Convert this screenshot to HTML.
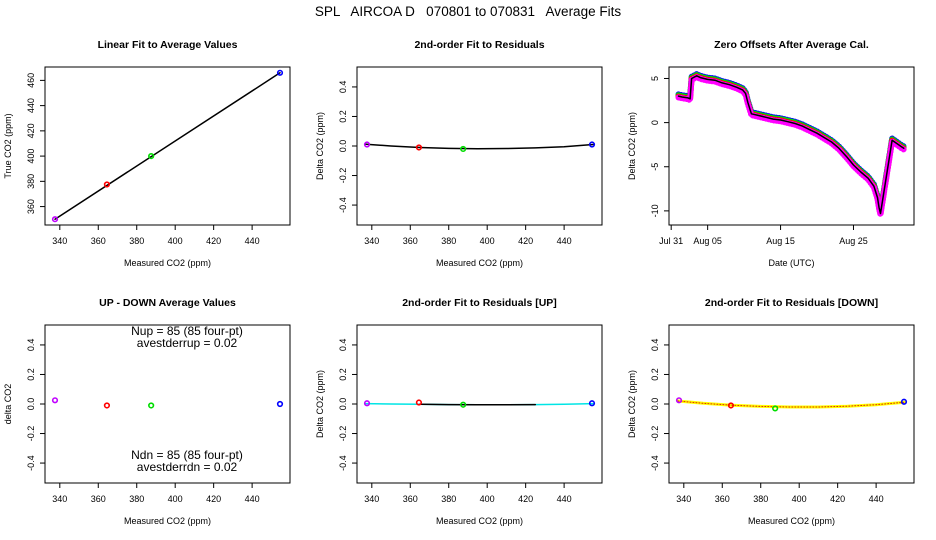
<!DOCTYPE html>
<html><head><meta charset="utf-8"><style>
body{margin:0;background:#fff}
svg{display:block;font-family:"Liberation Sans",sans-serif}
</style></head><body>
<svg id="c" width="936" height="540" viewBox="0 0 936 540">
<text x="468" y="16" text-anchor="middle" font-size="13.5" xml:space="preserve">SPL   AIRCOA D   070801 to 070831   Average Fits</text>
</svg>
<script>
// ---- data ----
const concMeasured=[337.5,364.5,387.5,454.5];
const concTrue=[350,377.5,400,466];
const ptColors=['#c000ff','red','#00dd00','blue'];
const residAll=[0.01,-0.01,-0.02,0.01];
const fitX=[337,350,365,380,395,410,425,440,455];
const fitAll=[0.012,0.0,-0.01,-0.016,-0.018,-0.017,-0.013,-0.005,0.01];
const diffUpDown=[0.025,-0.01,-0.01,0.0];
const residUp=[0.005,0.01,-0.005,0.005];
const fitUp=[0.003,0.0,-0.002,-0.004,-0.005,-0.005,-0.004,-0.002,0.003];
const residDown=[0.025,-0.01,-0.03,0.015];
const fitDown=[0.02,0.005,-0.008,-0.016,-0.02,-0.02,-0.015,-0.005,0.012];
const offDays=[1,1.5,2.3,2.6,2.8,3.5,4,5,6,7,8,9,9.8,10.2,10.5,11,12,13,14,15,16,17,18,19,20,21,22,23,24,25,26,27,27.8,28.3,28.5,28.7,30.3,31,31.5,31.9];
const offVals=[3.0,2.9,2.8,2.7,5.0,5.3,5.1,4.9,4.8,4.5,4.3,4.0,3.7,3.3,2.3,1.0,0.8,0.6,0.4,0.3,0.1,-0.1,-0.4,-0.8,-1.2,-1.7,-2.2,-2.9,-3.8,-4.8,-5.6,-6.3,-7.2,-8.5,-9.6,-10.3,-2.0,-2.4,-2.7,-2.9];
const offSeriesShift=[0.2,0.1,-0.05,-0.15];
const offColors=['blue','#00dd00','red','#ff00ff'];
const dateTicks=[0,5,15,25];
const dateLabels=['Jul 31','Aug 05','Aug 15','Aug 25'];
const concTicks=[340,360,380,400,420,440];
const residTicks=[-0.4,-0.2,0,0.2,0.4];
const trueTicks=[360,380,400,420,440,460];
const offTicks=[-10,-5,0,5];

const NS='http://www.w3.org/2000/svg';
const svg=document.getElementById('c');
function el(tag,attrs,parent,text){const e=document.createElementNS(NS,tag);for(const k in attrs)e.setAttribute(k,attrs[k]);if(text!==undefined)e.textContent=text;(parent||svg).appendChild(e);return e;}

function panel(name,bx,by,title,xlab,ylab,xmin,xmax,ymin,ymax,xt,xl,yt,yl){
  const g=el('g',{});
  
  
  const W=245,H=158;
  const sx=v=>bx+(v-xmin)/(xmax-xmin)*W, sy=v=>by+H-(v-ymin)/(ymax-ymin)*H;
  const r=el('rect',{x:bx,y:by,width:W,height:H,fill:'none',stroke:'#000','stroke-width':1},g);
  
  const t=el('text',{x:bx+W/2,y:by-19,'text-anchor':'middle','font-size':10.5,'font-weight':'bold'},g,title);
  
  const xa=el('text',{x:bx+W/2,y:by+H+41,'text-anchor':'middle','font-size':9},g,xlab);
  
  const ya=el('text',{transform:`translate(${bx-34},${by+H/2}) rotate(-90)`,'text-anchor':'middle','font-size':9},g,ylab);
  
  const ax=el('g',{},g);
  xt.forEach((v,i)=>{const x=sx(v);el('line',{x1:x,x2:x,y1:by+H,y2:by+H+5,stroke:'#000'},ax);
    const lb=el('text',{x:x,y:by+H+19,'text-anchor':'middle','font-size':9},ax,xl[i]);
    });
  const ay=el('g',{},g);
  yt.forEach((v,i)=>{const y=sy(v);el('line',{x1:bx-5,x2:bx,y1:y,y2:y,stroke:'#000'},ay);
    const lb=el('text',{transform:`translate(${bx-11},${y}) rotate(-90)`,'text-anchor':'middle','font-size':9},ay,yl[i]);
    });
  return {g,sx,sy};
}
function pts(p,xs,ys,colors,name){
  xs.forEach((x,i)=>{const c=el('circle',{cx:p.sx(x),cy:p.sy(ys[i]),r:2.3,fill:'none',stroke:colors[i],'stroke-width':1.6},p.g);
    });
}
function line(p,xs,ys,color,w,name,dash){
  const d=xs.map((x,i)=>(i?'L':'M')+p.sx(x).toFixed(1)+','+p.sy(ys[i]).toFixed(1)).join('');
  const a={d:d,fill:'none',stroke:color,'stroke-width':w,'stroke-linejoin':'round','stroke-linecap':'round'};
  if(dash)a['stroke-dasharray']=dash;
  const e=el('path',a,p.g);
}
const cl=concTicks.map(String), rl=residTicks.map(v=>v.toFixed(1));
const xr=[332.3,459.7];
const cols=[45,357,669], rows=[67,325];

// Panel 1
let p=panel('linear-fit-panel',cols[0],rows[0],'Linear Fit to Average Values','Measured CO2 (ppm)','True CO2 (ppm)',xr[0],xr[1],345.4,470.6,concTicks,cl,trueTicks,trueTicks.map(String));
line(p,[concMeasured[0],concMeasured[3]],[concTrue[0],concTrue[3]],'#000',1.5,'fit-line');
pts(p,concMeasured,concTrue,ptColors,'calibration-point');

// Panel 2
p=panel('residuals-panel',cols[1],rows[0],'2nd-order Fit to Residuals','Measured CO2 (ppm)','Delta CO2 (ppm)',xr[0],xr[1],-0.535,0.535,concTicks,cl,residTicks,rl);
line(p,fitX,fitAll,'#000',1.5,'residual-fit-curve');
pts(p,concMeasured,residAll,ptColors,'residual-point');

// Panel 3
p=panel('zero-offsets-panel',cols[2],rows[0],'Zero Offsets After Average Cal.','Date (UTC)','Delta CO2 (ppm)',-0.3,33.3,-11.6,6.3,dateTicks,dateLabels,offTicks,offTicks.map(String));
offSeriesShift.forEach((s,k)=>line(p,offDays,offVals.map(v=>v+s),offColors[k],6,'offset-series-'+k,'0.1,2.6'));
line(p,offDays,offVals,'#000',1.5,'offset-mean-line');

// Panel 4
p=panel('up-down-panel',cols[0],rows[1],'UP - DOWN Average Values','Measured CO2 (ppm)','delta CO2',xr[0],xr[1],-0.535,0.535,concTicks,cl,residTicks,rl);
pts(p,concMeasured,diffUpDown,ptColors,'up-down-point');
[['Nup = 85 (85 four-pt)',10],['avestderrup =  0.02',22],['Ndn = 85 (85 four-pt)',134],['avestderrdn =  0.02',146]].forEach(([s,dy])=>{
  const t=el('text',{x:cols[0]+142,y:rows[1]+dy,'text-anchor':'middle','font-size':12,'xml:space':'preserve'},p.g,s);
  });

// Panel 5
p=panel('residuals-up-panel',cols[1],rows[1],'2nd-order Fit to Residuals [UP]','Measured CO2 (ppm)','Delta CO2 (ppm)',xr[0],xr[1],-0.535,0.535,concTicks,cl,residTicks,rl);
line(p,fitX,fitUp,'#00e5e5',1.5,'up-fit-curve');
line(p,fitX.slice(2,7),fitUp.slice(2,7),'#000',1.5,'up-fit-core');
pts(p,concMeasured,residUp,ptColors,'up-residual-point');

// Panel 6
p=panel('residuals-down-panel',cols[2],rows[1],'2nd-order Fit to Residuals [DOWN]','Measured CO2 (ppm)','Delta CO2 (ppm)',xr[0],xr[1],-0.535,0.535,concTicks,cl,residTicks,rl);
line(p,fitX,fitDown,'#ffff00',3,'down-fit-band');
line(p,fitX,fitDown,'#e03000',1,'down-fit-curve','1,2');
pts(p,concMeasured,residDown,ptColors,'down-residual-point');
</script>
</body></html>
